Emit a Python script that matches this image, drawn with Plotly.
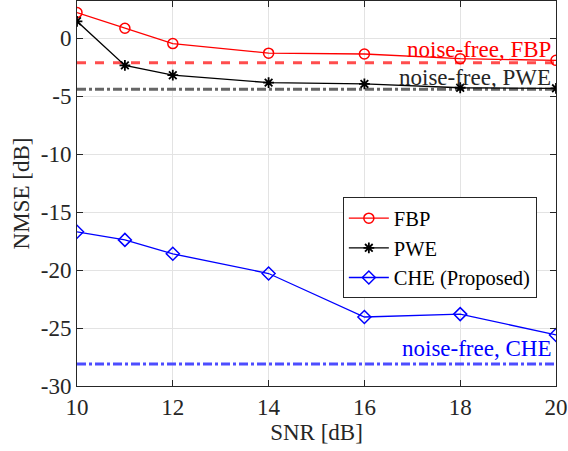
import plotly.graph_objects as go

snr = [10, 11, 12, 14, 16, 18, 20]
fbp = [2.2, 0.85, -0.47, -1.3, -1.37, -1.77, -1.92]
pwe = [1.45, -2.35, -3.2, -3.84, -3.95, -4.28, -4.33]
che = [-16.7, -17.4, -18.6, -20.3, -24.05, -23.8, -25.6]
nf_fbp = -2.12
nf_pwe = -4.4
nf_che = -28.1
yticks = [0, -5, -10, -15, -20, -25, -30]
xticks = [10, 12, 14, 16, 18, 20]

FONT = "Liberation Serif"
FS = 23
fig = go.Figure()

# noise-free reference lines
fig.add_trace(go.Scatter(x=[snr[0], snr[-1]], y=[nf_fbp, nf_fbp], mode="lines",
                         line=dict(color="#ff4d4d", width=3, dash="dash"), showlegend=False))
fig.add_trace(go.Scatter(x=[snr[0], snr[-1]], y=[nf_pwe, nf_pwe], mode="lines",
                         line=dict(color="#666666", width=3, dash="dashdot"), showlegend=False))
fig.add_trace(go.Scatter(x=[snr[0], snr[-1]], y=[nf_che, nf_che], mode="lines",
                         line=dict(color="#4d4dff", width=3, dash="dashdot"), showlegend=False))

fig.add_trace(go.Scatter(x=snr, y=fbp, mode="lines+markers", name="FBP",
                         line=dict(color="#ff0000", width=1.3),
                         marker=dict(symbol="circle-open", size=10, color="#ff0000", line=dict(width=1.5))))
fig.add_trace(go.Scatter(x=snr, y=pwe, mode="lines+markers", name="PWE",
                         line=dict(color="#000000", width=1.3),
                         marker=dict(symbol="asterisk-open", size=9, color="#000000", line=dict(width=1.8))))
fig.add_trace(go.Scatter(x=snr, y=che, mode="lines+markers", name="CHE (Proposed)",
                         line=dict(color="#0000ff", width=1.3),
                         marker=dict(symbol="diamond-open", size=10, color="#0000ff", line=dict(width=1.5))))

ann_font = dict(family=FONT, size=FS)
fig.add_annotation(x=20, y=-1.0, xref="x", yref="y", text="noise-free, FBP", showarrow=False,
                   xanchor="right", yanchor="middle", xshift=-3, font=dict(color="#ff0000", **ann_font))
fig.add_annotation(x=20, y=-3.4, xref="x", yref="y", text="noise-free, PWE", showarrow=False,
                   xanchor="right", yanchor="middle", xshift=-3, font=dict(color="#262626", **ann_font))
fig.add_annotation(x=20, y=-26.8, xref="x", yref="y", text="noise-free, CHE", showarrow=False,
                   xanchor="right", yanchor="middle", xshift=-3, font=dict(color="#0000ff", **ann_font))

axis_common = dict(showgrid=True, gridcolor="#e3e3e3", gridwidth=1, showline=True, linecolor="#262626",
                   linewidth=1, mirror="ticks", ticks="inside", ticklen=6, tickcolor="#262626",
                   zeroline=False, tickfont=dict(family=FONT, size=FS, color="#262626"))

fig.update_xaxes(range=[10, 20], tickvals=xticks, ticktext=[str(v) for v in xticks],
                 title=dict(text="SNR [dB]", font=dict(family=FONT, size=FS, color="#262626"), standoff=2),
                 **axis_common)
fig.update_yaxes(range=[-30, 3.2], tickvals=yticks, ticktext=[str(v) for v in yticks],
                 title=dict(text="NMSE [dB]", font=dict(family=FONT, size=FS, color="#262626"), standoff=4),
                 **axis_common)

fig.update_layout(
    width=568, height=451,
    margin=dict(l=77, r=12, t=1, b=65),
    plot_bgcolor="white", paper_bgcolor="white",
    font=dict(family=FONT, size=FS, color="#262626"),
    legend=dict(x=0.555, y=0.49, xanchor="left", yanchor="top", bgcolor="white",
                bordercolor="#262626", borderwidth=1, font=dict(family=FONT, size=20.5, color="#000000"),
                tracegroupgap=0, itemwidth=40),
)

fig.write_html("out.html")
